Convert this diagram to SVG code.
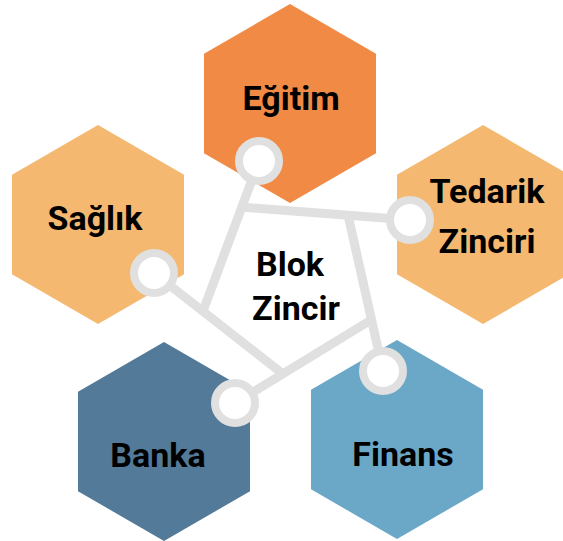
<svg xmlns="http://www.w3.org/2000/svg" xmlns:xlink="http://www.w3.org/1999/xlink" width="563" height="541" viewBox="0 0 563 541">
<style>
.lbl{font-family:Roboto,"Liberation Sans",Arial,sans-serif;font-weight:700;font-size:34px;fill:#000;text-anchor:middle}
.conn line{stroke:#E0E0E0;stroke-width:9;fill:none}
.knot{fill:#fff;stroke:#E0E0E0;stroke-width:8}
</style>
<defs>
<polygon id="hex" points="0,-99.5 86,-49.75 86,49.75 0,99.5 -86,49.75 -86,-49.75"/>
</defs>
<g id="egitim-hex"><use xlink:href="#hex" href="#hex" x="290" y="103.5" fill="#F08A45"/></g>
<g id="saglik-hex"><use xlink:href="#hex" href="#hex" x="98" y="224.5" fill="#F4B870"/></g>
<g id="tedarik-hex"><use xlink:href="#hex" href="#hex" x="483" y="224.5" fill="#F4B870"/></g>
<g id="banka-hex"><use xlink:href="#hex" href="#hex" x="164" y="441.5" fill="#537A98"/></g>
<g id="finans-hex"><use xlink:href="#hex" href="#hex" x="397" y="439.5" fill="#6BA7C6"/></g>
<g id="connectors" class="conn">
<line x1="259" y1="161" x2="203" y2="311"/>
<line x1="410" y1="220" x2="241" y2="207"/>
<line x1="383" y1="371" x2="348" y2="215"/>
<line x1="235" y1="403" x2="371" y2="320"/>
<line x1="154" y1="273" x2="283" y2="374"/>
<circle class="knot" cx="259" cy="161" r="20"/>
<circle class="knot" cx="410" cy="220" r="20"/>
<circle class="knot" cx="383" cy="371" r="20"/>
<circle class="knot" cx="235" cy="403" r="20"/>
<circle class="knot" cx="154" cy="273" r="20"/>
</g>
<g id="egitim"><text class="lbl" x="291" y="110">Eğitim</text></g>
<g id="saglik"><text class="lbl" x="95" y="230">Sağlık</text></g>
<g id="tedarik"><text class="lbl" x="487" y="203">Tedarik</text><text class="lbl" x="487" y="253">Zinciri</text></g>
<g id="banka"><text class="lbl" x="158" y="467">Banka</text></g>
<g id="finans"><text class="lbl" x="403" y="466">Finans</text></g>
<g id="blokzincir"><text class="lbl" x="290" y="276">Blok</text><text class="lbl" x="296" y="320">Zincir</text></g>
</svg>
